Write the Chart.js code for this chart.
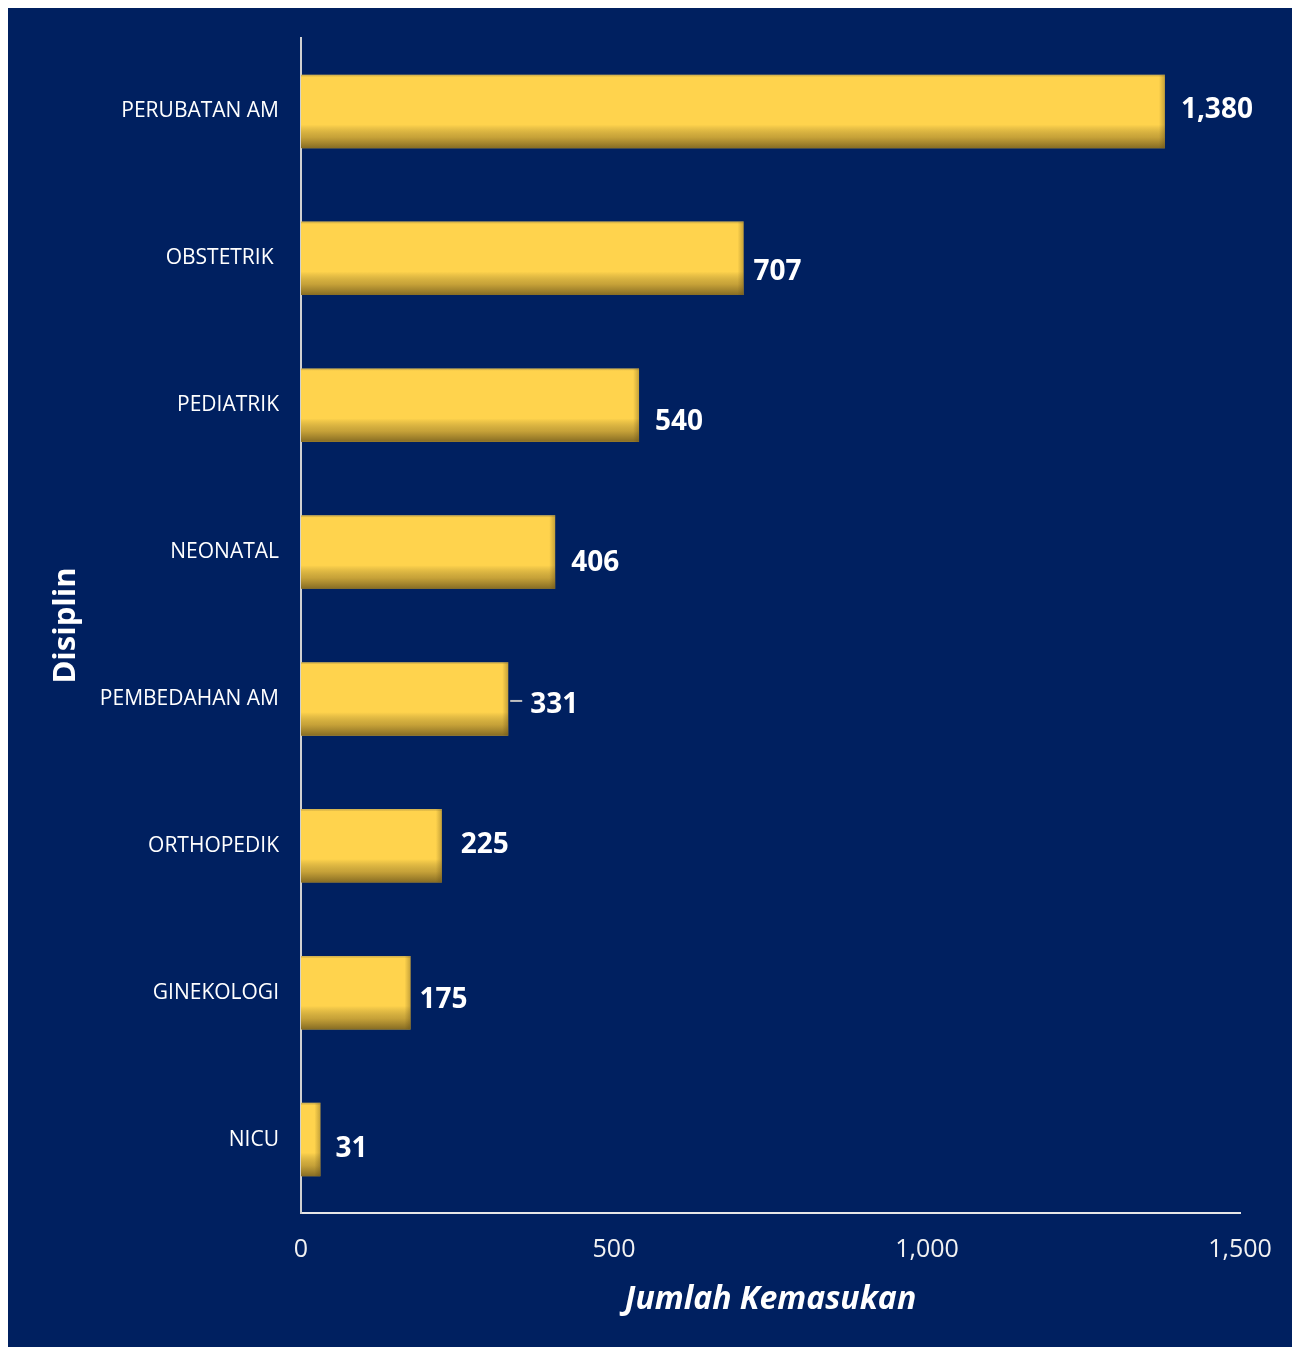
<!DOCTYPE html>
<html>
<head>
<meta charset="utf-8">
<script src="https://cdn.jsdelivr.net/npm/chart.js@4.4.1/dist/chart.umd.min.js"></script>
<style>
  html, body { margin: 0; padding: 0; background: #ffffff; }
  #wrap {
    position: absolute;
    left: 8px;
    top: 8px;
    width: 1284px;
    height: 1339px;
    background: #002060;
  }
</style>
</head>
<body>
<div id="wrap"><canvas id="chart"></canvas></div>
<script>
const disciplines = [
  "PERUBATAN AM",
  "OBSTETRIK ",
  "PEDIATRIK",
  "NEONATAL",
  "PEMBEDAHAN AM",
  "ORTHOPEDIK",
  "GINEKOLOGI",
  "NICU"
];
const admissions = [1380, 707, 540, 406, 331, 225, 175, 31];
const xTicks = [0, 500, 1000, 1500];

// where each value label sits, relative to the end of its bar (dx, dy)
const labelNudge = [[16, -1], [10, 14], [16, 17], [16, 11], [22, 6], [19, -1], [9, 7], [15, 9]];
const leaderLines = [4];

const fontFace = "'Open Sans', 'Noto Sans', sans-serif";

const barShading = {
  id: "barShading",
  afterDatasetsDraw(chart) {
    const ctx = chart.ctx;
    const meta = chart.getDatasetMeta(0);
    ctx.save();
    meta.data.forEach((bar, i) => {
      const left = Math.min(bar.base, bar.x);
      const right = Math.max(bar.base, bar.x);
      const top = bar.y - bar.height / 2;
      const h = bar.height;
      const w = right - left;

      // dark bottom edge
      const g = ctx.createLinearGradient(0, top, 0, top + h);
      g.addColorStop(0, "rgba(120, 120, 120, 0.35)");
      g.addColorStop(0.03, "rgba(0, 0, 0, 0)");
      g.addColorStop(0.68, "rgba(0, 0, 0, 0)");
      g.addColorStop(0.85, "rgba(70, 50, 10, 0.3)");
      g.addColorStop(1, "rgba(60, 45, 10, 0.62)");
      ctx.fillStyle = g;
      ctx.fillRect(left, top, w, h);

      // slight shade on the right end
      const gr = ctx.createLinearGradient(right - 6, 0, right, 0);
      gr.addColorStop(0, "rgba(90, 70, 20, 0)");
      gr.addColorStop(1, "rgba(90, 70, 20, 0.35)");
      ctx.fillStyle = gr;
      ctx.fillRect(right - 6, top, 6, h);
    });

    // value labels
    ctx.fillStyle = "#ffffff";
    ctx.font = "bold 28px " + fontFace;
    ctx.textAlign = "left";
    ctx.textBaseline = "middle";
    meta.data.forEach((bar, i) => {
      const [dx, dy] = labelNudge[i];
      const text = admissions[i].toLocaleString("en-US");
      const x = bar.x + dx;
      const y = bar.y + dy;
      if (leaderLines.includes(i)) {
        ctx.strokeStyle = "#BFBFBF";
        ctx.lineWidth = 2;
        ctx.beginPath();
        ctx.moveTo(bar.x + 2, y - 4);
        ctx.lineTo(x - 8, y - 4);
        ctx.stroke();
      }
      ctx.fillText(text, x, y);
    });
    ctx.restore();
  }
};

const ctx = document.getElementById("chart").getContext("2d");
new Chart(ctx, {
  type: "bar",
  data: {
    labels: disciplines,
    datasets: [
      {
        data: admissions,
        backgroundColor: "#FFD34D",
        borderWidth: 0,
        barPercentage: 0.5,
        categoryPercentage: 1
      }
    ]
  },
  options: {
    indexAxis: "y",
    responsive: true,
    maintainAspectRatio: false,
    devicePixelRatio: 1,
    animation: false,
    layout: {
      padding: { top: 30, right: 52, left: 0, bottom: 0 }
    },
    plugins: {
      legend: { display: false },
      tooltip: { enabled: false }
    },
    scales: {
      x: {
        min: xTicks[0],
        max: xTicks[xTicks.length - 1],
        afterBuildTicks(scale) {
          scale.ticks = xTicks.map((v) => ({ value: v }));
        },
        afterFit(scale) {
          scale.height = 134;
          scale.paddingLeft = 0;
          scale.paddingRight = 0;
        },
        grid: { display: false, drawTicks: false },
        border: { display: true, color: "#E6E6E6", width: 2 },
        ticks: {
          color: "#F2F2F2",
          padding: 22,
          font: { family: fontFace, size: 25 },
          callback: (v) => Number(v).toLocaleString("en-US")
        },
        title: {
          display: true,
          text: "Jumlah Kemasukan",
          color: "#ffffff",
          font: { family: fontFace, size: 32, weight: "bold", style: "italic" },
          padding: { top: 0, bottom: 28 }
        }
      },
      y: {
        afterFit(scale) {
          scale.width = 293;
          scale.paddingTop = 0;
          scale.paddingBottom = 0;
        },
        grid: { display: false, drawTicks: false },
        border: { display: true, color: "#D0D0D0", width: 2 },
        ticks: {
          color: "#ffffff",
          padding: 22,
          font: { family: fontFace, size: 21 }
        },
        title: {
          display: true,
          text: "Disiplin",
          color: "#ffffff",
          font: { family: fontFace, size: 31, weight: "bold" },
          padding: { top: 40, bottom: 0 }
        }
      }
    }
  },
  plugins: [barShading]
});
</script>
</body>
</html>
